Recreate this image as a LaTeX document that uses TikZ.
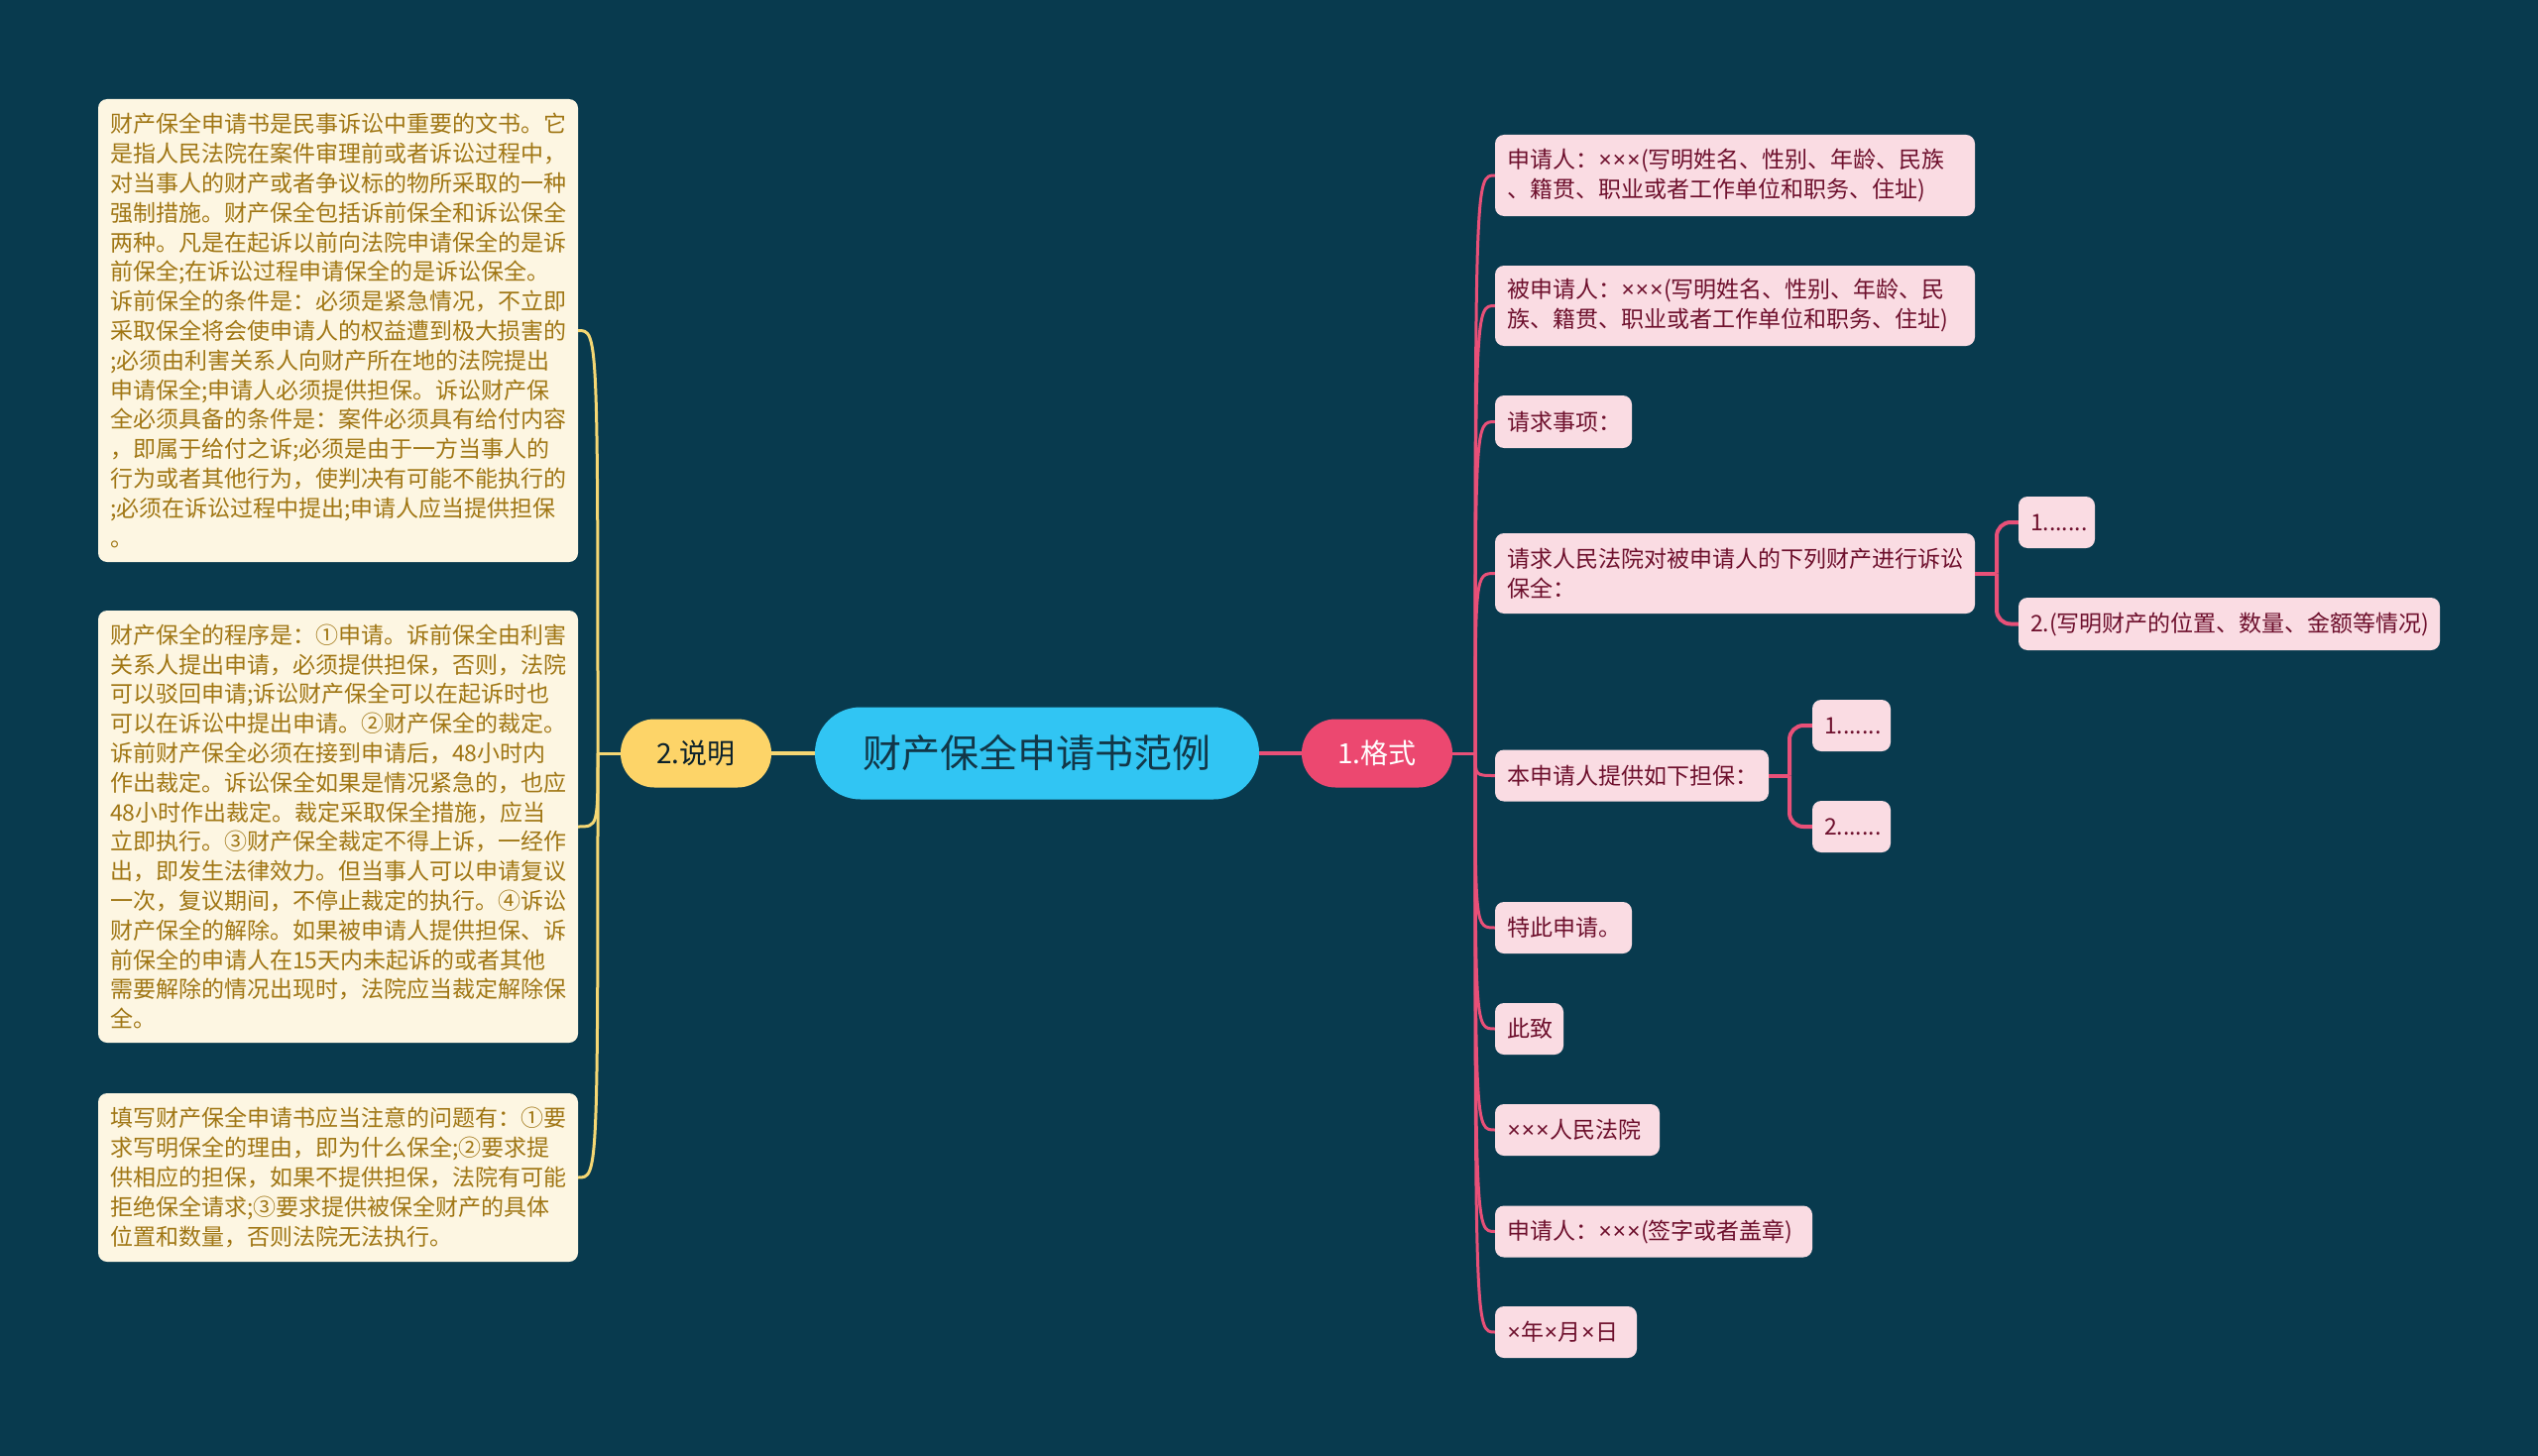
\documentclass[tikz,border=0pt]{standalone}
\usepackage{fontspec}
\setmainfont{Noto Sans CJK SC}
\newfontfamily\latf{Noto Sans}
\newcommand{\tms}{{\latf\kern0.6pt×\kern0.6pt}}
\definecolor{bg}{RGB}{8,58,78}
\definecolor{pinkfill}{RGB}{250,220,227}
\definecolor{pinktext}{RGB}{110,16,45}
\definecolor{pinkline}{RGB}{232,80,120}
\definecolor{redfill}{RGB}{236,72,112}
\definecolor{yellowfill}{RGB}{253,212,104}
\definecolor{yline}{RGB}{245,215,115}
\definecolor{creamfill}{RGB}{253,246,226}
\definecolor{creamtext}{RGB}{160,118,20}
\definecolor{bluefill}{RGB}{49,197,243}
\definecolor{bluetext}{RGB}{18,55,72}
\begin{document}
\begin{tikzpicture}[x=1pt,y=-1pt,
  rn/.style={fill=pinkfill, text=pinktext, rounded corners=9pt, inner xsep=12pt, inner ysep=3pt,
    align=left, font=\fontsize{23}{30}\selectfont},
  ln/.style={fill=creamfill, text=creamtext, rounded corners=9pt, inner xsep=12pt, inner ysep=3pt,
    align=left, text width=460pt, minimum width=484pt, font=\fontsize{23}{29.8}\selectfont},
  pline/.style={draw=pinkline, line width=3pt},
  subline/.style={draw=pinkline, line width=4pt, rounded corners=14pt},
  ylinest/.style={draw=yline, line width=3pt}]
\fill[bg] (0,0) rectangle (2560,1469);
\useasboundingbox (0,0) rectangle (2560,1469);

% central and main branches
\node[fill=bluefill, text=bluetext, rounded corners=46pt, minimum width=448pt, minimum height=93pt,
  inner sep=0pt, font=\fontsize{39}{45}\selectfont] (C) at (1046,760) {财产保全申请书范例};
\node[fill=redfill, text=white, rounded corners=34pt, minimum width=152pt, minimum height=69pt,
  inner sep=0pt, font=\fontsize{28}{32}\selectfont] (F) at (1389,760) {1.格式};
\node[fill=yellowfill, text=bluetext!60!black, rounded corners=34pt, minimum width=152pt, minimum height=69pt,
  inner sep=0pt, font=\fontsize{28}{32}\selectfont] (S) at (702,760) {2.说明};

% right children
\node[rn, text width=460pt, minimum height=82pt] (R1) at (1750,177) {申请人：\tms\tms\tms(写明姓名、性别、年龄、民族\\、籍贯、职业或者工作单位和职务、住址)};
\node[rn, text width=460pt, minimum height=81pt] (R2) at (1750,308.5) {被申请人：\tms\tms\tms(写明姓名、性别、年龄、民\\族、籍贯、职业或者工作单位和职务、住址)};
\node[rn, text width=114pt, minimum height=53pt] (R3) at (1577,425.5) {请求事项：};
\node[rn, text width=460pt, minimum height=81pt] (R4) at (1750,578.5) {请求人民法院对被申请人的下列财产进行诉讼\\保全：};
\node[rn, text width=53pt, minimum height=52pt] (R4a) at (2074.5,527) {1.......};
\node[rn, text width=401pt, minimum height=53pt] (R4b) at (2248.5,629.5) {2.(写明财产的位置、数量、金额等情况)};
\node[rn, text width=252pt, minimum height=52pt] (R5) at (1646,782.5) {本申请人提供如下担保：};
\node[rn, text width=55pt, minimum height=52pt] (R5a) at (1867.5,732) {1.......};
\node[rn, text width=55pt, minimum height=52pt] (R5b) at (1867.5,834) {2.......};
\node[rn, text width=114pt, minimum height=52pt] (R6) at (1577,936) {特此申请。};
\node[rn, text width=45pt, minimum height=52pt] (R7) at (1542.5,1038) {此致};
\node[rn, text width=142pt, minimum height=52pt] (R8) at (1591,1140) {\tms\tms\tms 人民法院};
\node[rn, text width=296pt, minimum height=52pt] (R9) at (1668,1242.5) {申请人：\tms\tms\tms(签字或者盖章)};
\node[rn, text width=119pt, minimum height=52pt] (R10) at (1579.5,1344) {\tms 年\tms 月\tms 日};

% left children
\node[ln, minimum height=467pt] (L1) at (341,333.5) {财产保全申请书是民事诉讼中重要的文书。它\\
是指人民法院在案件审理前或者诉讼过程中，\\
对当事人的财产或者争议标的物所采取的一种\\
强制措施。财产保全包括诉前保全和诉讼保全\\
两种。凡是在起诉以前向法院申请保全的是诉\\
前保全;在诉讼过程申请保全的是诉讼保全。\\
诉前保全的条件是：必须是紧急情况，不立即\\
采取保全将会使申请人的权益遭到极大损害的\\
;必须由利害关系人向财产所在地的法院提出\\
申请保全;申请人必须提供担保。诉讼财产保\\
全必须具备的条件是：案件必须具有给付内容\\
，即属于给付之诉;必须是由于一方当事人的\\
行为或者其他行为，使判决有可能不能执行的\\
;必须在诉讼过程中提出;申请人应当提供担保\\
。};
\node[ln, minimum height=436pt] (L2) at (341,834) {财产保全的程序是：①申请。诉前保全由利害\\
关系人提出申请，必须提供担保，否则，法院\\
可以驳回申请;诉讼财产保全可以在起诉时也\\
可以在诉讼中提出申请。②财产保全的裁定。\\
诉前财产保全必须在接到申请后，48小时内\\
作出裁定。诉讼保全如果是情况紧急的，也应\\
48小时作出裁定。裁定采取保全措施，应当\\
立即执行。③财产保全裁定不得上诉，一经作\\
出，即发生法律效力。但当事人可以申请复议\\
一次，复议期间，不停止裁定的执行。④诉讼\\
财产保全的解除。如果被申请人提供担保、诉\\
前保全的申请人在15天内未起诉的或者其他\\
需要解除的情况出现时，法院应当裁定解除保\\
全。};
\node[ln, minimum height=170pt] (L3) at (341,1188) {填写财产保全申请书应当注意的问题有：①要\\
求写明保全的理由，即为什么保全;②要求提\\
供相应的担保，如果不提供担保，法院有可能\\
拒绝保全请求;③要求提供被保全财产的具体\\
位置和数量，否则法院无法执行。};

% main connectors
\draw[draw=pinkline, line width=4pt] (C.east) -- (F.west);
\draw[draw=yline, line width=4pt] (C.west) -- (S.east);

% right trunk
\coordinate (ft) at (1488,760);
\draw[pline] (F.east) -- (ft);
\foreach \n in {R1,R2,R3,R4,R5,R6,R7,R8,R9,R10}{
  \draw[pline] (ft) .. controls (ft |- \n.west) and (ft |- \n.west) .. (\n.west);
}

% sub branches
\coordinate (r4t) at (2014,578.5);
\draw[subline] (R4.east) -- (r4t);
\draw[subline] (r4t) |- (R4a.west);
\draw[subline] (r4t) |- (R4b.west);
\coordinate (r5t) at (1805,782.5);
\draw[subline] (R5.east) -- (r5t);
\draw[subline] (r5t) |- (R5a.west);
\draw[subline] (r5t) |- (R5b.west);

% left trunk
\coordinate (st) at (603,760);
\draw[ylinest] (S.west) -- (st);
\foreach \n in {L1,L2,L3}{
  \draw[ylinest] (st) .. controls (st |- \n.east) and (st |- \n.east) .. (\n.east);
}
\end{tikzpicture}
\end{document}
